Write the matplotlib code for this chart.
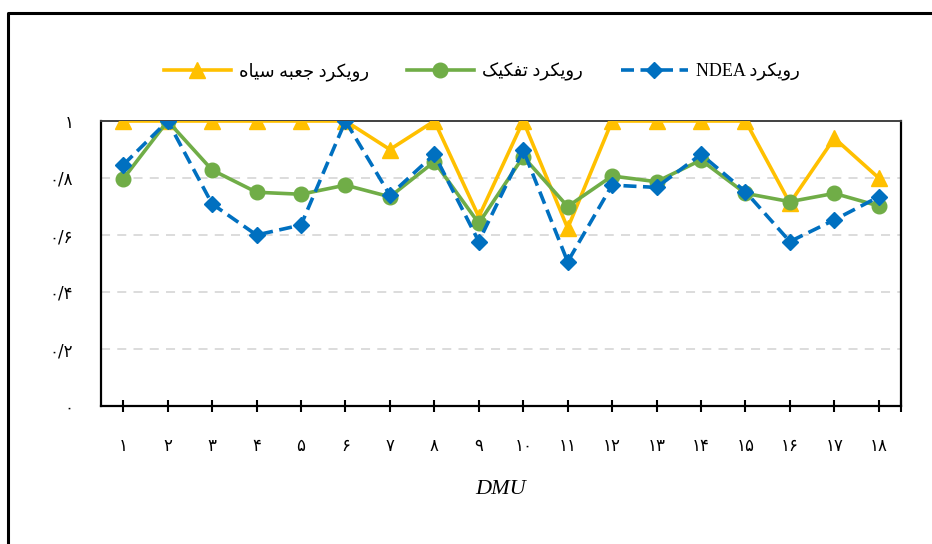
import matplotlib
matplotlib.use("Agg")
import matplotlib.pyplot as plt
from matplotlib.lines import Line2D

# values
dmu = list(range(1, 19))
black_box = [1, 1, 1, 1, 1, 1, 0.90, 1, 0.664, 1, 0.624, 1, 1, 1, 1, 0.712, 0.94, 0.80]
decomposition = [0.797, 1, 0.828, 0.75, 0.743, 0.775, 0.734, 0.857, 0.641, 0.875,
                 0.70, 0.807, 0.787, 0.863, 0.746, 0.717, 0.746, 0.702]
ndea = [0.846, 1, 0.709, 0.60, 0.635, 1, 0.74, 0.883, 0.577, 0.898,
        0.506, 0.775, 0.767, 0.883, 0.752, 0.577, 0.653, 0.734]

# persian digits for tick labels
fa_digits = "۰۱۲۳۴۵۶۷۸۹"
def fa(n):
    return "".join(fa_digits[int(c)] for c in str(n))

x_labels = [fa(i) for i in dmu]
y_ticks = [0, 0.2, 0.4, 0.6, 0.8, 1]
y_labels = ["۰", "۰/۲", "۰/۴", "۰/۶", "۰/۸", "۱"]

# legend labels, shaped by hand (presentation forms, visual order)
ravikard = "\uFEA9\uFEAE\uFB91\uFBFE\uFEED\uFEAD"      # رویکرد
jabe = "\uFEEA\uFE92\uFECC\uFE9F"                      # جعبه
siah = "\uFEE9\uFE8E\uFBFF\uFEB3"                      # سیاه
tafkik = "\uFB8F\uFBFF\uFB91\uFED4\uFE97"              # تفکیک
lbl_black = siah + " " + jabe + " " + ravikard
lbl_decomp = tafkik + " " + ravikard
lbl_ndea = "NDEA " + ravikard

fonts = ["Liberation Serif", "DejaVu Sans"]
plt.rcParams["font.family"] = fonts

fig = plt.figure(figsize=(9.32, 5.44), dpi=100)
ax = fig.add_axes([101 / 932, 1 - 406 / 544, 800 / 932, 285 / 544])

ax.plot(dmu, black_box, color="#FFC000", lw=2.6, marker="^", ms=11,
        label=lbl_black, zorder=3)
ax.plot(dmu, decomposition, color="#70AD47", lw=2.6, marker="o", ms=10.5,
        label=lbl_decomp, zorder=4)
ax.plot(dmu, ndea, color="#0070C0", lw=2.6, marker="D", ms=8.5,
        ls=(0, (3.6, 1.8)), label=lbl_ndea, zorder=5)

ax.set_xlim(0.5, 18.5)
ax.set_ylim(0, 1)
ax.set_xticks(dmu)
ax.set_xticklabels(x_labels, fontsize=12, family="DejaVu Sans")
ax.set_xticks([18.5], minor=True)
ax.tick_params(axis="x", which="both", direction="inout", length=9, width=1.5, pad=18)
ax.set_yticks(y_ticks)
ax.set_yticklabels(y_labels, fontsize=12, family="DejaVu Sans")
ax.tick_params(axis="y", length=0, pad=20)

for v in y_ticks[1:-1]:
    ax.axhline(v, color="#D9D9D9", lw=1.3, ls=(0, (5, 4)), zorder=1)

for s in ["left", "bottom", "right"]:
    ax.spines[s].set_linewidth(1.6)
    ax.spines[s].set_color("black")
ax.spines["top"].set_linewidth(1.4)
ax.spines["top"].set_color("#404040")

ax.set_xlabel("DMU", fontsize=16, style="italic", family="Liberation Serif", labelpad=18)

fig.legend(loc="center", bbox_to_anchor=(0.517, 0.868), ncol=3, frameon=False,
           fontsize=13, handlelength=3.7, columnspacing=2.1, handletextpad=0.45)

# outer frame of the original chart area
fig.add_artist(Line2D([8 / 932, 8 / 932, 1.0], [0.0, 1 - 13 / 544, 1 - 13 / 544],
                      transform=fig.transFigure, color="black", lw=2.2))

fig.savefig("out.png", dpi=100)
